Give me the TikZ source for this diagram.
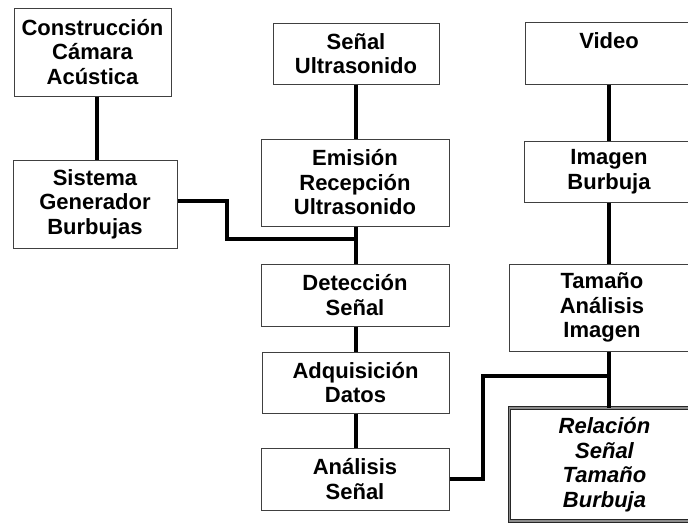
\documentclass[tikz,border=0pt]{standalone}
\usepackage{fontspec}
\setmainfont{Liberation Sans}
\begin{document}
\begin{tikzpicture}[x=1pt,y=-1pt,
  box/.style={draw=black!75,line width=1pt,fill=white,align=center,
    inner sep=0pt,font=\fontsize{22}{24.5}\selectfont\bfseries},
  finalbox/.style={box,draw=black!85,double=black!45,double distance=1.6pt,
    line width=0.9pt,font=\fontsize{22}{24.5}\selectfont\bfseries\itshape},
  link/.style={line width=3.3pt,black}]
\useasboundingbox (0,0) rectangle (688,525);
\fill[white] (0,0) rectangle (688,525);
\clip (0,0) rectangle (688,525);

% connector columns and bends
\coordinate (c1) at (97,0);
\coordinate (c2) at (356,0);
\coordinate (c3) at (609,0);
\coordinate (k1) at (227,239);
\coordinate (k2) at (483,376);

% left column
\node[box,minimum width=157,minimum height=88] (b1) at (92.5,52) {Construcción\\Cámara\\Acústica};
\node[box,minimum width=164,minimum height=88] (b2) at (95,204) {Sistema\\Generador\\Burbujas};

% middle column
\node[box,minimum width=166,minimum height=61] (b3) at (356,53.5) {Señal\\Ultrasonido};
\node[box,minimum width=188,minimum height=87] (b4) at (355,182.5) {Emisión\\Recepción\\Ultrasonido};
\node[box,minimum width=188,minimum height=62] (b5) at (355,295) {Detección\\Señal};
\node[box,minimum width=187,minimum height=61] (b6) at (355.5,382.5) {Adquisición\\Datos};
\node[box,minimum width=188,minimum height=62] (b7) at (355,479) {Análisis\\Señal};

% right column
\node[box,minimum width=168,minimum height=62] (b8) at (609,53) {Video\\\mbox{}};
\node[box,minimum width=170,minimum height=61] (b9) at (609,171.5) {Imagen\\Burbuja};
\node[box,minimum width=186,minimum height=87] (b10) at (602,307.5) {Tamaño\\Análisis\\Imagen};
\node[finalbox,minimum width=190,minimum height=113] (b11) at (604.5,464.5) {Relación\\Señal\\Tamaño\\Burbuja};

% connectors
\draw[link] (b1.south -| c1) -- (b2.north -| c1);
\draw[link] (b3.south -| c2) -- (b4.north -| c2);
\draw[link] (b4.south -| c2) -- (b5.north -| c2);
\draw[link] (b5.south -| c2) -- (b6.north -| c2);
\draw[link] (b6.south -| c2) -- (b7.north -| c2);
\draw[link] ([yshift=3pt]b2.east) -| (k1) -- (k1 -| c2);
\draw[link] (b8.south -| c3) -- (b9.north -| c3);
\draw[link] (b9.south -| c3) -- (b10.north -| c3);
\draw[link] (b10.south -| c3) -- (b11.north -| c3);
\draw[link] (b7.east) -| (k2) -- (k2 -| c3);
\end{tikzpicture}
\end{document}
